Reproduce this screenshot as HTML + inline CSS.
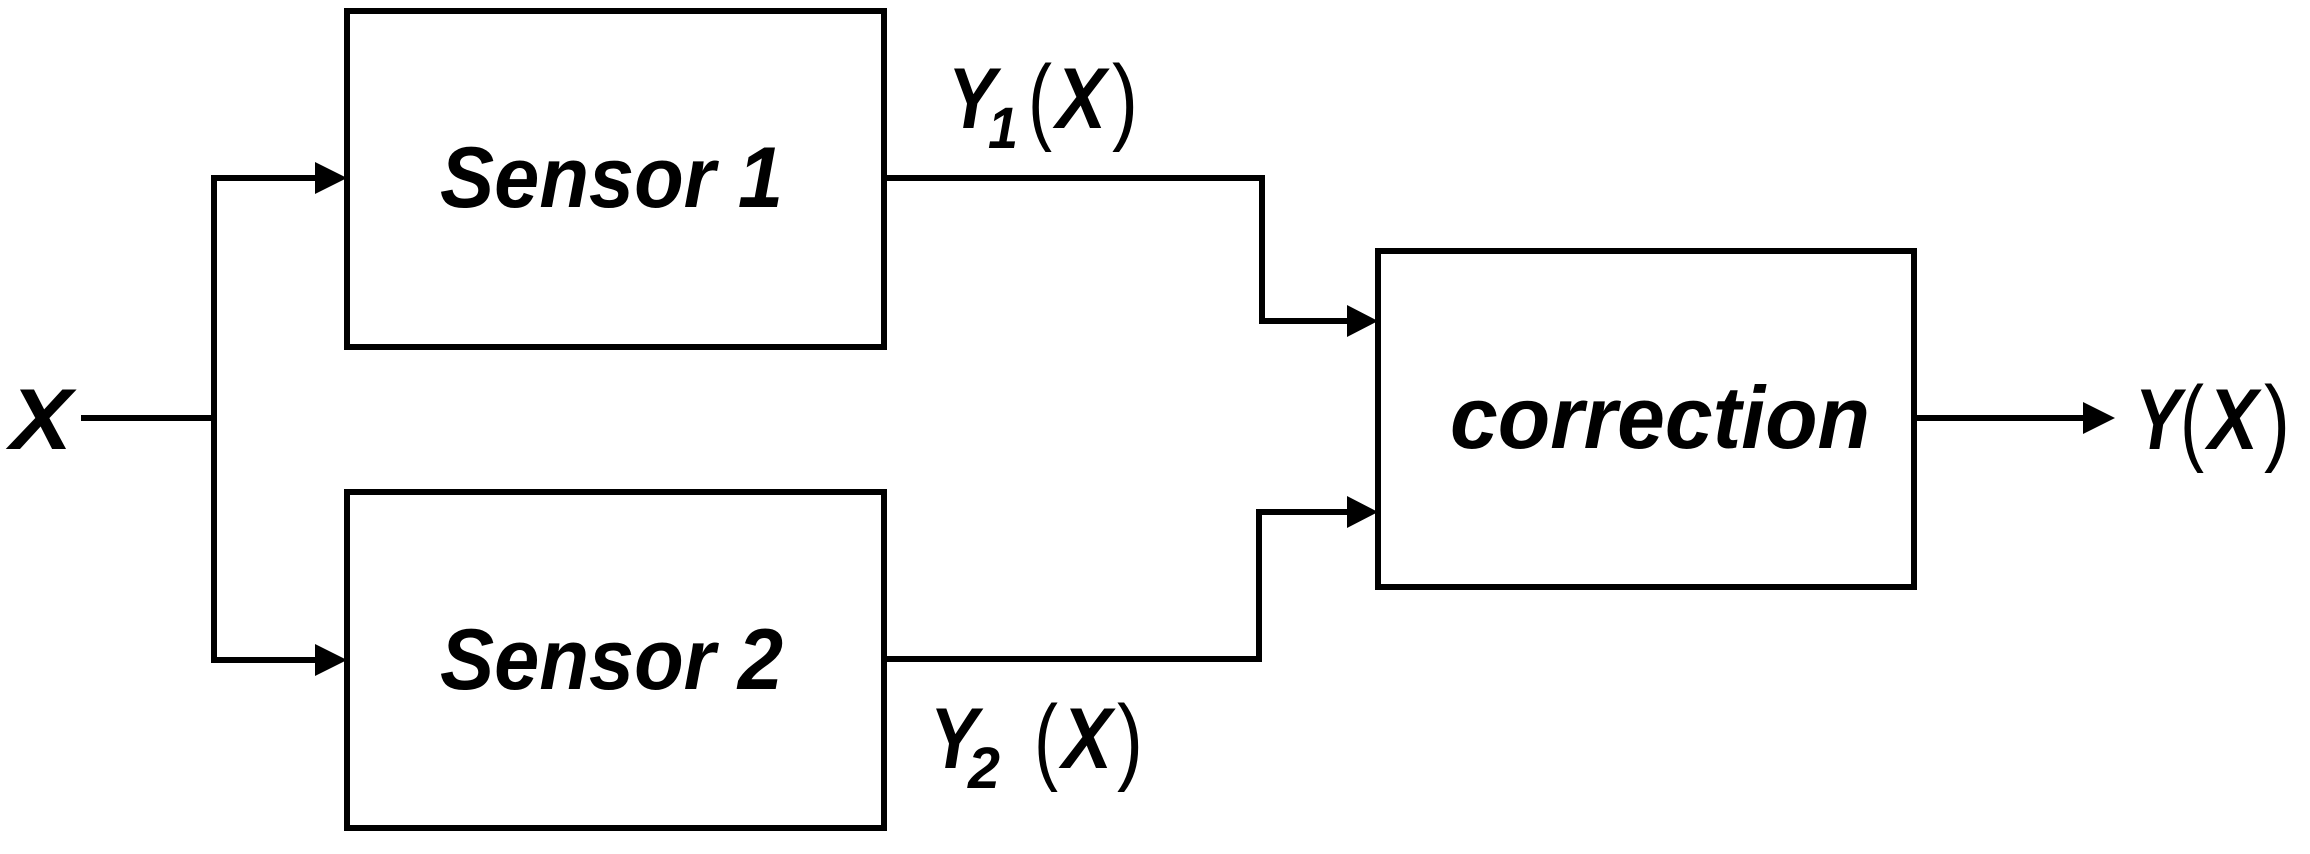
<!DOCTYPE html>
<html><head><meta charset="utf-8"><style>
html,body{margin:0;padding:0;background:#fff;}
svg{display:block;}
text{font-family:"Liberation Sans",sans-serif;font-weight:bold;font-style:italic;fill:#000;}
.p{font-style:normal;font-weight:normal;}
</style></head><body>
<svg width="2310" height="854" viewBox="0 0 2310 854" xmlns="http://www.w3.org/2000/svg">
<g fill="none" stroke="#000" stroke-width="6" stroke-linejoin="miter">
<rect x="347" y="11" width="537" height="336"/>
<rect x="347" y="492" width="537" height="336"/>
<rect x="1378" y="251" width="536" height="336"/>
<polyline points="81,418 214,418"/>
<polyline points="320,178 214,178 214,660 320,660"/>
<polyline points="884,178 1262,178 1262,321 1352,321"/>
<polyline points="884,659 1259,659 1259,512 1352,512"/>
<polyline points="1914,418 2090,418"/>
</g>
<g fill="#000">
<polygon points="315,162 347,178 315,194"/>
<polygon points="315,644 347,660 315,676"/>
<polygon points="1347,305 1378,321 1347,337"/>
<polygon points="1347,496 1378,512 1347,528"/>
<polygon points="2083,402 2115,418 2083,434"/>
</g>
<text x="440" y="207" font-size="86" textLength="343" lengthAdjust="spacingAndGlyphs">Sensor 1</text>
<text x="440" y="689" font-size="86" textLength="343" lengthAdjust="spacingAndGlyphs">Sensor 2</text>
<text x="1450" y="448" font-size="88" textLength="420" lengthAdjust="spacingAndGlyphs">correction</text>
<text x="10" y="449" font-size="86" textLength="62" lengthAdjust="spacingAndGlyphs">X</text>
<text x="948" y="128" font-size="86" textLength="48" lengthAdjust="spacingAndGlyphs">Y</text>
<text x="988" y="148" font-size="58" textLength="30" lengthAdjust="spacingAndGlyphs">1</text>
<text class="p" x="1028" y="132" font-size="96" textLength="24" lengthAdjust="spacingAndGlyphs">(</text>
<text x="1056" y="128" font-size="86" textLength="50" lengthAdjust="spacingAndGlyphs">X</text>
<text class="p" x="1112" y="132" font-size="96" textLength="26" lengthAdjust="spacingAndGlyphs">)</text>
<text x="930" y="768" font-size="86" textLength="48" lengthAdjust="spacingAndGlyphs">Y</text>
<text x="968" y="788" font-size="58" textLength="32" lengthAdjust="spacingAndGlyphs">2</text>
<text class="p" x="1034" y="772" font-size="96" textLength="24" lengthAdjust="spacingAndGlyphs">(</text>
<text x="1062" y="768" font-size="86" textLength="50" lengthAdjust="spacingAndGlyphs">X</text>
<text class="p" x="1117" y="772" font-size="96" textLength="26" lengthAdjust="spacingAndGlyphs">)</text>
<text x="2135" y="449" font-size="86" textLength="46" lengthAdjust="spacingAndGlyphs">Y</text>
<text class="p" x="2180" y="453" font-size="96" textLength="24" lengthAdjust="spacingAndGlyphs">(</text>
<text x="2208" y="449" font-size="86" textLength="50" lengthAdjust="spacingAndGlyphs">X</text>
<text class="p" x="2264" y="453" font-size="96" textLength="26" lengthAdjust="spacingAndGlyphs">)</text>
</svg>
</body></html>
